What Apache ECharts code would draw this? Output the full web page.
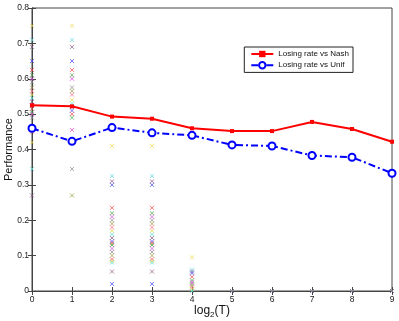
<!DOCTYPE html>
<html>
<head>
<meta charset="utf-8">
<script src="https://cdn.jsdelivr.net/npm/echarts@6/dist/echarts.min.js"></script>
<style>
  html, body { margin: 0; padding: 0; background: #fff; }
  #main { width: 399px; height: 321px; }
</style>
</head>
<body>
<div id="main"></div>
<script>
// x categories (log2 T)
const xTicks = [0, 1, 2, 3, 4, 5, 6, 7, 8, 9]
const yTicks = [0, 0.1, 0.2, 0.3, 0.4, 0.5, 0.6, 0.7, 0.8]

// the two lines
const nashRate = [0.525, 0.522, 0.493, 0.487, 0.460, 0.452, 0.452, 0.478, 0.458, 0.422]
const unifRate = [0.460, 0.423, 0.462, 0.447, 0.440, 0.413, 0.410, 0.383, 0.378, 0.333]

// scattered crosses, one list per x column
const cross0 = [0.75, 0.71, 0.69, 0.65, 0.625, 0.61, 0.60, 0.59, 0.575, 0.565, 0.555, 0.545, 0.535, 0.525, 0.515, 0.505, 0.50, 0.49, 0.455, 0.45, 0.42, 0.345, 0.27]
const cross1 = [0.75, 0.71, 0.69, 0.65, 0.625, 0.61, 0.60, 0.575, 0.565, 0.555, 0.54, 0.53, 0.52, 0.51, 0.50, 0.49, 0.455, 0.345, 0.27]
const cross2 = [0.41, 0.325, 0.31, 0.30, 0.235, 0.22, 0.21, 0.20, 0.19, 0.18, 0.17, 0.16, 0.15, 0.14, 0.135, 0.13, 0.12, 0.11, 0.10, 0.09, 0.085, 0.08, 0.055, 0.02]
const cross3 = [0.41, 0.325, 0.31, 0.30, 0.235, 0.22, 0.21, 0.20, 0.19, 0.18, 0.17, 0.16, 0.15, 0.14, 0.135, 0.13, 0.12, 0.11, 0.10, 0.09, 0.085, 0.08, 0.055, 0.02]
const cross4 = [0.095, 0.06, 0.055, 0.05, 0.04, 0.03, 0.025, 0.02, 0.015, 0.01, 0.005, 0]
const cross5 = [0, 0, 0]
const cross6 = [0, 0, 0]
const cross7 = [0, 0, 0]
const cross8 = [0, 0, 0]
const cross9 = [0, 0, 0]

const crossColors = ['#e8d84a', '#5ce0e0', '#8a5a8a', '#4444ee', '#ee4444', '#44aa44', '#dd44dd', '#888888', '#9a9a40', '#ff6688']

const columns = [cross0, cross1, cross2, cross3, cross4, cross5, cross6, cross7, cross8, cross9]
const crossData = []
columns.forEach((col, xi) => {
    col.forEach((v, k) => {
        crossData.push({
            value: [xTicks[xi], v],
            itemStyle: { borderColor: crossColors[k % crossColors.length] }
        })
    })
})

const chart = echarts.init(document.getElementById('main'))
const fontFam = 'Liberation Sans, Arial, sans-serif'

let option = {
    animation: false,
    grid: { left: 32, right: 7, top: 8, bottom: 30, outerBoundsMode: 'none', containLabel: false,
        show: true, borderColor: '#444', borderWidth: 1 },
    legend: {
        right: 46, top: 47,
        orient: 'vertical',
        backgroundColor: '#fff',
        borderColor: '#222', borderWidth: 1,
        padding: [3, 4, 3, 6],
        itemGap: 3,
        itemWidth: 22, itemHeight: 8,
        textStyle: { fontSize: 8, fontFamily: fontFam, color: '#111' },
        data: ['Losing rate vs Nash', 'Losing rate vs Unif']
    },
    xAxis: [{
        type: 'value', min: 0, max: 9, interval: 1,
        name: '{a|log}{s|2}{a|(T)}', nameLocation: 'middle', nameGap: 12, nameMoveOverlap: false,
        nameTextStyle: { rich: { a: { fontSize: 12, fontFamily: fontFam, color: '#111' }, s: { fontSize: 8, fontFamily: fontFam, color: '#111', verticalAlign: 'bottom', padding: [8, 0, 0, 0] } } },
        axisLine: { lineStyle: { color: '#444' } },
        axisTick: { inside: true, length: 4, lineStyle: { color: '#444' } },
        axisLabel: { fontSize: 8.5, fontFamily: fontFam, color: '#222', margin: 4 },
        splitLine: { show: false }
    }, {
        type: 'value', min: 0, max: 9, interval: 1, position: 'top',
        axisLine: { lineStyle: { color: '#444' } },
        axisTick: { inside: true, length: 4, lineStyle: { color: '#444' } },
        axisLabel: { show: false }, splitLine: { show: false }
    }],
    yAxis: [{
        type: 'value', min: 0, max: 0.8, interval: 0.1,
        name: 'Performance', nameLocation: 'middle', nameGap: 18, nameMoveOverlap: false,
        nameTextStyle: { fontSize: 11, fontFamily: fontFam, color: '#111' },
        axisLine: { show: true, lineStyle: { color: '#444' } },
        axisTick: { show: true, inside: true, length: 4, lineStyle: { color: '#444' } },
        axisLabel: { fontSize: 8.5, fontFamily: fontFam, color: '#222', margin: 3,
            formatter: v => (v === 0 ? '0' : v.toFixed(1)) },
        splitLine: { show: false }
    }, {
        type: 'value', min: 0, max: 0.8, interval: 0.1, position: 'right',
        axisLine: { show: true, lineStyle: { color: '#444' } },
        axisTick: { show: true, inside: true, length: 4, lineStyle: { color: '#444' } },
        axisLabel: { show: false }, splitLine: { show: false }
    }],
    series: [{
        name: 'crosses',
        type: 'scatter',
        symbol: 'path://M0,0L10,10M10,0L0,10',
        symbolSize: 4,
        itemStyle: { color: 'transparent', borderWidth: 0.9 },
        data: crossData,
        z: 1
    }, {
        name: 'Losing rate vs Nash',
        type: 'line',
        data: nashRate.map((v, i) => [xTicks[i], v]),
        symbol: 'rect', symbolSize: 4,
        itemStyle: { color: '#ff0000' },
        lineStyle: { color: '#ff0000', width: 2 },
        z: 3
    }, {
        name: 'Losing rate vs Unif',
        type: 'line',
        data: unifRate.map((v, i) => [xTicks[i], v]),
        symbol: 'emptyCircle', symbolSize: 7,
        itemStyle: { color: '#0000ff', borderWidth: 2 },
        lineStyle: { color: '#0000ff', width: 2, type: [7, 3, 2, 3] },
        z: 3
    }]
}
option && chart.setOption(option)
</script>
</body>
</html>
